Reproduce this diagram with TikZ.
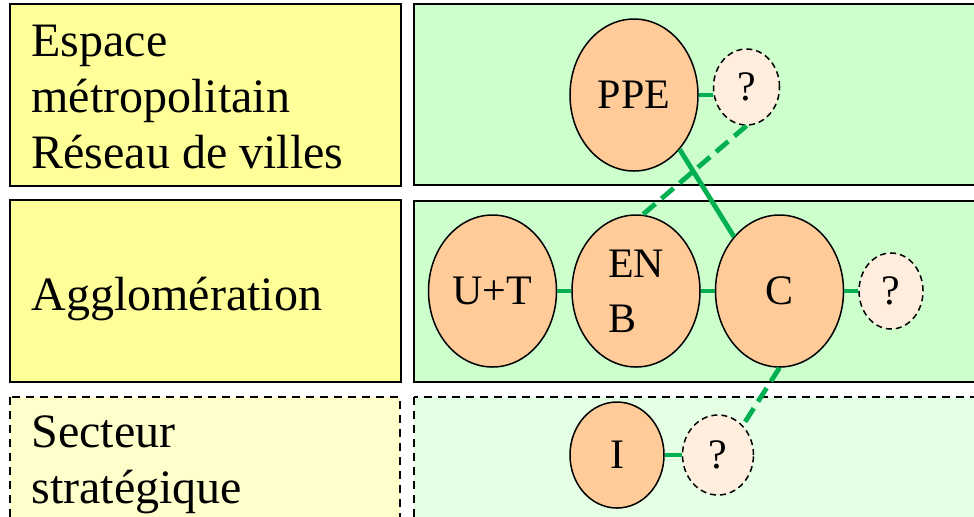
\documentclass[tikz,border=0pt]{standalone}
\usepackage{fontspec}
\setmainfont{Liberation Serif}
\usetikzlibrary{positioning,shapes.geometric}

\definecolor{lvlyellow}{HTML}{FFFF99}
\definecolor{lvlyellowlt}{HTML}{FFFFCC}
\definecolor{zonegreen}{HTML}{CCFFCC}
\definecolor{zonegreenlt}{HTML}{E5FFE5}
\definecolor{polefill}{HTML}{FFCC99}
\definecolor{openfill}{HTML}{FFEEDD}
\definecolor{linkgreen}{HTML}{00B050}

\begin{document}
\begin{tikzpicture}[x=0.5pt, y=-0.5pt, node distance = 7pt,
  level/.style = {draw, line width=1pt, fill=lvlyellow},
  levelopen/.style = {level, fill=lvlyellowlt, dash pattern=on 4pt off 3pt},
  zone/.style = {draw, line width=1pt, fill=zonegreen},
  zoneopen/.style = {zone, fill=zonegreenlt, dash pattern=on 4pt off 3pt},
  lbl/.style = {anchor=base west, align=left, inner sep=0pt,
    font=\fontsize{24}{28}\selectfont},
  pole/.style = {ellipse, draw, line width=0.75pt, fill=polefill,
    minimum width=64pt, minimum height=76pt, inner sep=0pt,
    font=\fontsize{21}{27.5}\selectfont},
  open/.style = {ellipse, draw, line width=0.75pt, fill=openfill,
    dash pattern=on 3pt off 2pt, minimum width=33pt, minimum height=38pt,
    inner sep=0pt, font=\fontsize{21}{24}\selectfont},
  link/.style = {draw=linkgreen, line width=2.4pt},
  weak/.style = {link, dash pattern=on 8pt off 4pt}
  ]
  \useasboundingbox (0,0) rectangle (974,516);
  \clip (0,0) rectangle (974,516);

  % levels and zones
  \path[level] (10,4) rectangle (401,186);
  \path[level] (10,200) rectangle (401,382);
  \path[levelopen] (10,397) rectangle (400,530);
  \path[zone] (414,4) rectangle (990,185);
  \path[zone] (414,201) rectangle (990,382);
  \path[zoneopen] (414,397) rectangle (990,530);

  \node[lbl] (metro) at (31,168) {Espace\\métropolitain\\Réseau de villes};
  \node[lbl] (agglo) at (31,310) {Agglomération};
  \node[lbl] (secteur) at (31,503) {Secteur\\stratégique};

  % poles
  \node (ppe) [pole] at (634,95) {PPE};
  \node (qtop) [open, right=of ppe, yshift=4pt] {?};

  \node (ut) [pole] at (492.5,291) {U+T};
  \node (enb) [pole, align=left, right=of ut] {EN\\B};
  \node (c) [pole, right=of enb] {C};
  \node (qmid) [open, minimum width=32pt, right=of c] {?};

  \node (i) [pole, minimum width=47pt, minimum height=53pt] at (617,455) {I};
  \node (qbot) [open, minimum width=35.5pt, minimum height=40pt,
    right=8.5pt of i] {?};

  \draw[link] (ppe.east) -- (ppe.east -| qtop.west);
  \draw[link] (ut) -- (enb);
  \draw[link] (enb) -- (c);
  \draw[link] (c) -- (qmid);
  \draw[link] (i) -- (qbot);
  \draw[link] (ppe.-50) -- (c.130);
  \draw[weak] (qtop.south) -- (enb.85);
  \draw[weak] (c.south) -- (qbot.50);
\end{tikzpicture}
\end{document}
